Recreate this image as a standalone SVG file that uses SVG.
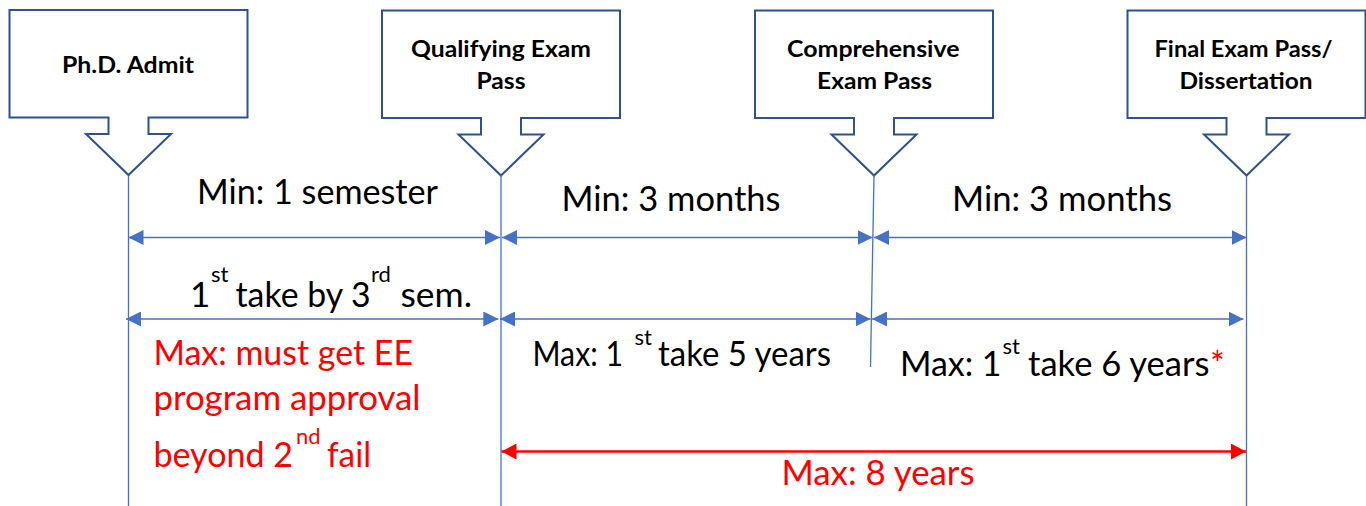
<svg xmlns="http://www.w3.org/2000/svg" width="1366" height="506" viewBox="0 0 1366 506">
<style>
.box{fill:#fff;stroke:#2F528F;stroke-width:2;stroke-linejoin:miter}
.lbl{font-family:Lato,Carlito,"Liberation Sans",sans-serif;font-weight:700;font-size:22px;fill:#000}
.t{font-family:Lato,Carlito,"Liberation Sans",sans-serif;font-size:35px;fill:#000}
.sup{font-family:Lato,Carlito,"Liberation Sans",sans-serif;font-size:22px;fill:#000}
.red{fill:#FF0000}
.vl{stroke:#4472C4;stroke-width:1.3;fill:none}
.hl{stroke:#4472C4;stroke-width:1.5;fill:none;marker-start:url(#ab);marker-end:url(#ab)}
.rl{stroke:#FF0000;stroke-width:2.5;fill:none;marker-start:url(#ar);marker-end:url(#ar)}
</style>
<defs>
<path id="callout" d="M-119,0 H119 V107.5 H20 V124 H42.5 L0,165 L-42.5,124 H-20 V107.5 H-119 Z"/>
<marker id="ab" markerUnits="userSpaceOnUse" markerWidth="15" markerHeight="15" viewBox="0 0 15 15" refX="15" refY="7.5" orient="auto-start-reverse">
<path d="M0,0 L15,7.5 L0,15 Z" fill="#4472C4"/>
</marker>
<marker id="ar" markerUnits="userSpaceOnUse" markerWidth="15" markerHeight="16" viewBox="0 0 15 16" refX="15" refY="8" orient="auto-start-reverse">
<path d="M0,0 L15,8 L0,16 Z" fill="#FF0000"/>
</marker>
</defs>

<g id="node-phd-admit">
<use href="#callout" class="box" transform="translate(128.5,10)"/>
<text class="lbl" x="62" y="73" textLength="132" lengthAdjust="spacingAndGlyphs">Ph.D. Admit</text>
</g>
<g id="node-qualifying">
<use href="#callout" class="box" transform="translate(501,10.5)"/>
<text class="lbl" x="411" y="56.7" textLength="180" lengthAdjust="spacingAndGlyphs">Qualifying Exam</text>
<text class="lbl" x="476.5" y="89.3" textLength="49" lengthAdjust="spacingAndGlyphs">Pass</text>
</g>
<g id="node-comprehensive">
<use href="#callout" class="box" transform="translate(874,10.5)"/>
<text class="lbl" x="787" y="56.7" textLength="172.5" lengthAdjust="spacingAndGlyphs">Comprehensive</text>
<text class="lbl" x="817" y="89.3" textLength="115" lengthAdjust="spacingAndGlyphs">Exam Pass</text>
</g>
<g id="node-final">
<use href="#callout" class="box" transform="translate(1246.5,10.5)"/>
<text class="lbl" x="1154.5" y="56.7" textLength="178" lengthAdjust="spacingAndGlyphs">Final Exam Pass/</text>
<text class="lbl" x="1179.5" y="89.3" textLength="133" lengthAdjust="spacingAndGlyphs">Dissertation</text>
</g>

<g id="connectors">
<line class="vl" x1="128.5" y1="175.5" x2="128.5" y2="506"/>
<line class="vl" x1="501" y1="175.5" x2="501" y2="506"/>
<line class="vl" x1="874" y1="175.5" x2="870.5" y2="367"/>
<line class="vl" x1="1246.5" y1="175.5" x2="1246.5" y2="506"/>
<line class="hl" x1="128.5" y1="237.5" x2="500" y2="237.5"/>
<line class="hl" x1="502" y1="237.5" x2="872.7" y2="237.5"/>
<line class="hl" x1="874" y1="237.5" x2="1246.5" y2="237.5"/>
<line class="hl" x1="126" y1="319" x2="498.3" y2="319"/>
<line class="hl" x1="500" y1="319" x2="870.5" y2="319"/>
<line class="hl" x1="872" y1="319" x2="1243.5" y2="319"/>
<line class="rl" x1="501.5" y1="451.5" x2="1246" y2="451.5"/>
</g>

<g id="labels">
<text class="t" x="197" y="204.3" textLength="241" lengthAdjust="spacingAndGlyphs">Min: 1 semester</text>
<text class="t" x="561.5" y="210.7" textLength="219" lengthAdjust="spacingAndGlyphs">Min: 3 months</text>
<text class="t" x="952" y="210.7" textLength="220" lengthAdjust="spacingAndGlyphs">Min: 3 months</text>

<text class="t" x="190" y="307.3">1</text>
<text class="sup" x="211" y="282">st</text>
<text class="t" x="235.5" y="307.3" textLength="135" lengthAdjust="spacingAndGlyphs">take by 3</text>
<text class="sup" x="371" y="282">rd</text>
<text class="t" x="400.5" y="307.3" textLength="71.5" lengthAdjust="spacingAndGlyphs">sem.</text>

<text class="t" x="532.5" y="366" textLength="90.5" lengthAdjust="spacingAndGlyphs">Max: 1</text>
<text class="sup" x="634.5" y="345">st</text>
<text class="t" x="658" y="366" textLength="173" lengthAdjust="spacingAndGlyphs">take 5 years</text>

<text class="t" x="900" y="376" textLength="101.5" lengthAdjust="spacingAndGlyphs">Max: 1</text>
<text class="sup" x="1002.5" y="354">st</text>
<text class="t" x="1028" y="376" textLength="181.5" lengthAdjust="spacingAndGlyphs">take 6 years</text>
<text class="t red" x="1210" y="376">*</text>

<text class="t red" x="153.5" y="365" textLength="259.5" lengthAdjust="spacingAndGlyphs">Max: must get EE</text>
<text class="t red" x="153.5" y="409.5" textLength="267" lengthAdjust="spacingAndGlyphs">program approval</text>
<text class="t red" x="153.5" y="466.7" textLength="139.5" lengthAdjust="spacingAndGlyphs">beyond 2</text>
<text class="sup red" x="296" y="443.5">nd</text>
<text class="t red" x="327" y="466.7" textLength="44" lengthAdjust="spacingAndGlyphs">fail</text>

<text class="t red" x="781.5" y="485" textLength="193" lengthAdjust="spacingAndGlyphs">Max: 8 years</text>
</g>
</svg>
